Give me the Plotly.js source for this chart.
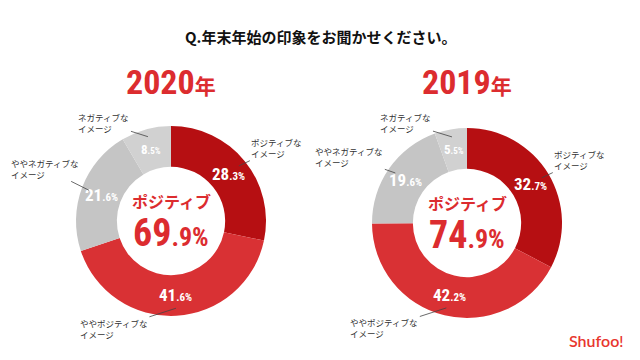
<!DOCTYPE html>
<html><head><meta charset="utf-8">
<script src="https://cdn.plot.ly/plotly-3.0.1.min.js"></script>
<style>html,body{margin:0;padding:0;background:#fff;}#chart{width:640px;height:360px;}</style>
</head><body><div id="chart"></div>
<script>
const categories = ["ポジティブなイメージ", "ややポジティブなイメージ", "ややネガティブなイメージ", "ネガティブなイメージ"];
const outsideLabels = ["ポジティブな<br>イメージ", "ややポジティブな<br>イメージ", "ややネガティブな<br>イメージ", "ネガティブな<br>イメージ"];
const years = ["2020", "2019"];
const values2020 = [28.3, 41.6, 21.6, 8.5];
const values2019 = [32.7, 42.2, 19.6, 5.5];
const centerLabel = "ポジティブ";
const titleText = "Q.年末年始の印象をお聞かせください。";

const W = 640, H = 360;
const colors = ["#B60F12", "#D93134", "#C5C5C5", "#D1D1D1"];
const valueFontSizes = [17, 17, 17, 13];
const valueDecSizes = [11, 11, 11, 9];
const RED = "#DC2C2F";
const NUMFONT = "Roboto Condensed, DejaVu Sans, sans-serif";
const JPFONT = "Noto Sans CJK JP, sans-serif";
const HOLE = 0.57;

// pie geometry (pixels)
const pies = [
  {vals: values2020, cx: 171, cy: 221, r: 95,
   offs: [[38, -18], [-62, 20], [-44, -22], [-44, -14]]},
  {vals: values2019, cx: 467, cy: 223, r: 95,
   offs: [[38, -18], [-62, 20], [-46, -16], [-46, -14]]}
];

function parts(v) { return v.toFixed(1).split("."); }
function ann(o) { return Object.assign({xref: "paper", yref: "paper", xanchor: "center", yanchor: "middle", showarrow: false}, o); }

const data = [];
const annotations = [];

annotations.push(ann({text: "<b>" + titleText + "</b>", x: 0.5, y: 1 - 37 / H,
  font: {family: JPFONT, size: 15, color: "#111"}}));

pies.forEach((p, i) => {
  const cx = p.cx / W, cy = 1 - p.cy / H;
  data.push({
    type: "pie", values: p.vals, labels: categories, sort: false, direction: "clockwise", rotation: 0,
    hole: HOLE,
    domain: {x: [(p.cx - p.r) / W, (p.cx + p.r) / W], y: [1 - (p.cy + p.r) / H, 1 - (p.cy - p.r) / H]},
    marker: {colors: colors, line: {color: "#fff", width: 0}},
    textinfo: "none", hoverinfo: "label+value", showlegend: false
  });
  // year title
  annotations.push(ann({text: "<b>" + years[i] + "<span style='font-size:21px;font-family:Noto Sans CJK JP'>年</span></b>",
    x: cx, y: 1 - 82 / H, font: {family: NUMFONT, size: 34, color: RED}}));
  // center text
  const pos = p.vals[0] + p.vals[1];
  const pp = parts(pos);
  annotations.push(ann({text: "<b>" + centerLabel + "</b>", x: cx, y: cy, yshift: 20,
    font: {family: JPFONT, size: 16, color: RED}}));
  annotations.push(ann({text: "<b>" + pp[0] + "<span style='font-size:26px'>." + pp[1] + "%</span></b>",
    x: cx, y: cy, yshift: -12, font: {family: NUMFONT, size: 38, color: RED}}));
  // slice values and outside labels with leader lines
  const total = p.vals.reduce((a, b) => a + b, 0);
  let cum = 0;
  p.vals.forEach((v, k) => {
    const mid = (cum + v / 2) / total * 2 * Math.PI;
    cum += v;
    const rm = p.r * (1 + HOLE) / 2;
    const vp = parts(v);
    annotations.push(ann({
      text: "<b>" + vp[0] + "<span style='font-size:" + valueDecSizes[k] + "px'>." + vp[1] + "%</span></b>",
      x: cx + rm * Math.sin(mid) / W, y: cy + rm * Math.cos(mid) / H,
      font: {family: NUMFONT, size: valueFontSizes[k], color: "#fff"}
    }));
    const rr = p.r * 0.92;
    annotations.push({
      text: outsideLabels[k], align: "left", xref: "paper", yref: "paper",
      x: cx + rr * Math.sin(mid) / W, y: cy + rr * Math.cos(mid) / H,
      showarrow: true, arrowhead: 0, arrowwidth: 0.8, arrowcolor: "#444", standoff: 0,
      ax: p.offs[k][0], ay: p.offs[k][1],
      font: {family: JPFONT, size: 8.5, color: "#333"}
    });
  });
});

annotations.push(ann({text: "Shufoo<span style='font-size:15px'>!</span>", x: 1 - 44 / W, y: 1 - 340 / H,
  font: {family: "Lato, Open Sans, sans-serif", size: 16, color: "#E8362E", weight: 600}}));

const layout = {
  width: W, height: H, margin: {l: 0, r: 0, t: 0, b: 0},
  paper_bgcolor: "#fff", plot_bgcolor: "#fff", showlegend: false,
  annotations: annotations
};
Plotly.newPlot("chart", data, layout, {displayModeBar: false, staticPlot: true});
</script></body></html>
